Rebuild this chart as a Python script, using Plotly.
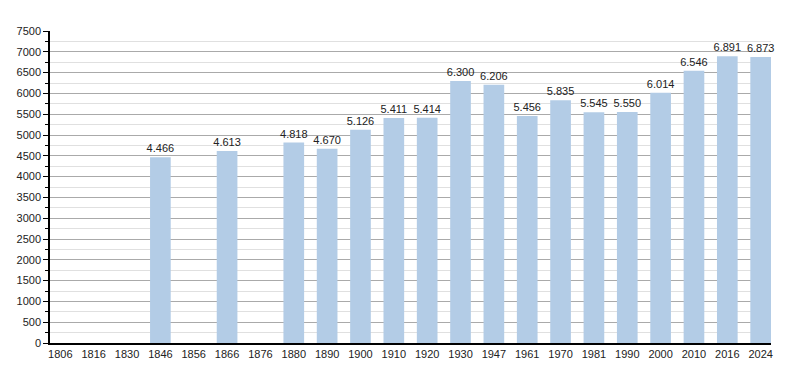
import plotly.graph_objects as go

years = ["1806", "1816", "1830", "1846", "1856", "1866", "1876", "1880", "1890", "1900",
         "1910", "1920", "1930", "1947", "1961", "1970", "1981", "1990", "2000", "2010",
         "2016", "2024"]
population = [None, None, None, 4466, None, 4613, None, 4818, 4670, 5126,
              5411, 5414, 6300, 6206, 5456, 5835, 5545, 5550, 6014, 6546,
              6891, 6873]
labels = ["" if v is None else f"{v:,}".replace(",", ".") for v in population]

fig = go.Figure(go.Bar(
    x=years, y=population, text=labels, textposition="outside",
    textfont=dict(size=11, color="#222222", family="Liberation Sans, Arial, sans-serif"),
    constraintext="none",
    marker=dict(color="#b3cce6", line=dict(width=0)),
    cliponaxis=False, hoverinfo="x+y",
))

fig.update_layout(
    width=800, height=373,
    margin=dict(l=42, r=37, t=23, b=38, autoexpand=False),
    paper_bgcolor="white", plot_bgcolor="white",
    bargap=0.38, showlegend=False,
    font=dict(family="Liberation Sans, Arial, sans-serif", size=11, color="#222222"),
)
fig.update_xaxes(
    type="category", range=[-0.31, 21.31],
    showline=True, linecolor="black", linewidth=1.5,
    ticks="", showgrid=False, tickfont=dict(size=11), automargin=False,
)
fig.update_yaxes(
    range=[0, 7500], dtick=500, showline=True, linecolor="black", linewidth=1.5,
    ticks="outside", ticklen=5, tickcolor="black", showgrid=True,
    gridcolor="#aaaaaa", gridwidth=1, zeroline=False, tickfont=dict(size=11),
    automargin=False,
    minor=dict(dtick=250, showgrid=True, gridcolor="#e0e0e0", ticks="outside",
               ticklen=3, tickcolor="black"),
)

fig.write_html("out.html")
